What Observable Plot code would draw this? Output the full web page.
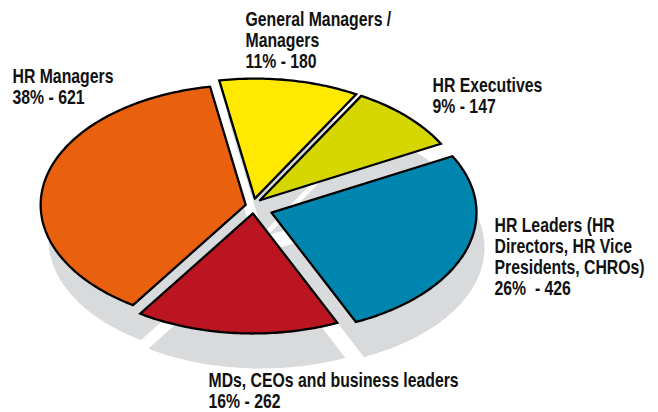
<!DOCTYPE html>
<html>
<head>
<meta charset="utf-8">
<script src="https://cdn.jsdelivr.net/npm/d3@7"></script>
<script src="https://cdn.jsdelivr.net/npm/@observablehq/plot@0.6"></script>
<style>html,body{margin:0;padding:0;background:#fff}svg{display:block}</style>
</head>
<body>
<script>
const groups = ["General Managers / Managers", "HR Executives", "HR Leaders", "MDs, CEOs and business leaders", "HR Managers"];
const counts = [180, 147, 426, 262, 621];
const colors = ["#FFE900", "#D6D600", "#0086AE", "#BC1522", "#E9600E"];
const labels = [
  "General Managers /\nManagers\n11% - 180",
  "HR Executives\n9% - 147",
  "HR Leaders (HR\nDirectors, HR Vice\nPresidents, CHROs)\n26%  - 426",
  "MDs, CEOs and business leaders\n16% - 262",
  "HR Managers\n38% - 621"
];
const labelX = [245, 432, 494, 208, 12];
const labelY = [11, 77, 217, 372, 68];

// pie layout settings
const explode = [8, 9, 19, 7, 8];
const center = [253, 206], rx = 205, ry = 120, shadow = [8, 35];
const firstAngle = -10 * Math.PI / 180;
const condense = 0.79;

const arcs = d3.pie().sort(null).startAngle(firstAngle).endAngle(firstAngle + 2 * Math.PI)(counts);

function wedge(arc, i) {
  const mid = (arc.startAngle + arc.endAngle) / 2;
  const ax = center[0] + explode[i] * Math.sin(mid);
  const ay = center[1] - explode[i] * Math.cos(mid);
  const pts = [{name: groups[i], x: ax, y: ay}];
  const n = Math.ceil((arc.endAngle - arc.startAngle) * 60);
  for (let k = 0; k <= n; ++k) {
    const a = arc.startAngle + (arc.endAngle - arc.startAngle) * k / n;
    pts.push({name: groups[i], x: ax + rx * Math.sin(a), y: ay - ry * Math.cos(a)});
  }
  pts.push(pts[0]);
  return pts;
}
const outline = arcs.flatMap(wedge);
const labelRows = labels.map((text, i) => ({text, x: labelX[i], y: labelY[i]}));

const chart = Plot.plot({
  width: 658,
  height: 412,
  margin: 0,
  style: {background: "#fff", overflow: "visible"},
  x: {domain: [0, 658], range: [0, 658], axis: null},
  y: {domain: [0, 412], range: [0, 412], axis: null},
  color: {domain: groups, range: colors},
  marks: [
    Plot.line(outline, {
      x: d => d.x + shadow[0], y: d => d.y + shadow[1], z: "name",
      fill: "#D9DADC", stroke: null, curve: "linear"
    }),
    Plot.line(outline, {
      x: "x", y: "y", z: "name", fill: "name",
      stroke: "#000", strokeWidth: 2.3, strokeLinejoin: "miter", strokeMiterlimit: 10, curve: "linear"
    }),
    Plot.text(labelRows, {
      x: "x", y: "y", text: "text", textAnchor: "start", lineAnchor: "top", lineHeight: 1.05,
      fontFamily: "'Liberation Sans',sans-serif", fontWeight: 700, fontSize: 20, fill: "#111"
    })
  ]
});
// The original face is a condensed one: narrow the real text horizontally.
chart.querySelectorAll("text").forEach(t => {
  const tr = t.getAttribute("transform") || "";
  t.setAttribute("transform", tr + ` scale(${condense},1)`);
});
document.body.appendChild(chart);
</script>
</body>
</html>
